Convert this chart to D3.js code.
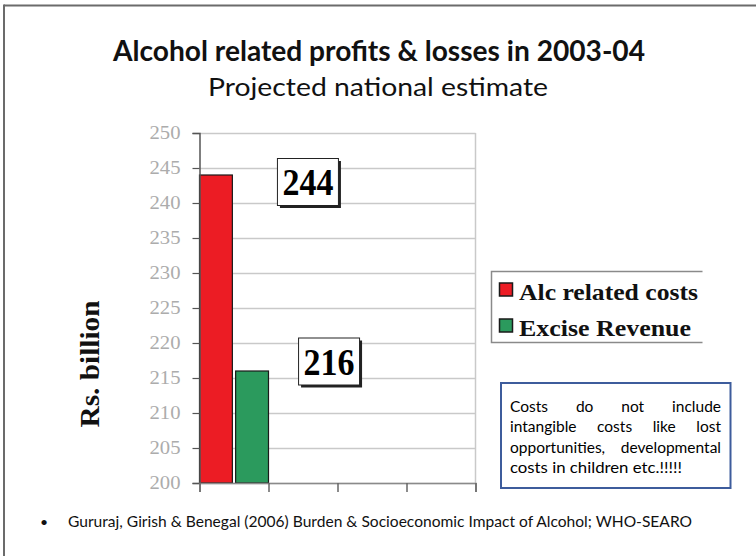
<!DOCTYPE html>
<html>
<head>
<meta charset="utf-8">
<script src="https://cdn.jsdelivr.net/npm/d3@7"></script>
<style>
  html, body { margin: 0; padding: 0; background: #fff; }
  svg { display: block; }
</style>
</head>
<body>
<svg id="chart" width="756" height="556"></svg>
<script>
// ---- data ----
const categories = ["2003-04"];
const seriesNames = ["Alc related costs", "Excise Revenue"];
const costs = [244];
const revenue = [216];
const slotCount = 4;                    // the category axis is laid out with four slots
const yTicks = [200, 205, 210, 215, 220, 225, 230, 235, 240, 245, 250];
const titleText = "Alcohol related profits & losses in 2003-04";
const subtitleText = "Projected national estimate";
const yLabel = "Rs. billion";
const noteLines = [
  "Costs do not include",
  "intangible costs like lost",
  "opportunities, developmental",
  "costs in children etc.!!!!!"
];
const sourceText = "Gururaj, Girish & Benegal (2006) Burden & Socioeconomic Impact of Alcohol; WHO-SEARO";

const colors = ["#ec1c24", "#2b9a5d"];
const serif = "'Liberation Serif', 'Times New Roman', serif";
const sans = "Lato, 'Open Sans', sans-serif";

const svg = d3.select("#chart");

// frame edges
svg.append("line").attr("x1", 4).attr("x2", 756).attr("y1", 5.5).attr("y2", 5.5)
  .attr("stroke", "#6b6b6b").attr("stroke-width", 2);
svg.append("line").attr("x1", 4).attr("x2", 4).attr("y1", 4.5).attr("y2", 556)
  .attr("stroke", "#6b6b6b").attr("stroke-width", 2);

// titles
svg.append("text").text(titleText)
  .attr("x", 379).attr("y", 61).attr("text-anchor", "middle")
  .attr("font-family", sans).attr("font-weight", 700).attr("font-size", 28)
  .attr("textLength", 532).attr("lengthAdjust", "spacingAndGlyphs").attr("fill", "#111");
svg.append("text").text(subtitleText)
  .attr("x", 378).attr("y", 96).attr("text-anchor", "middle")
  .attr("font-family", sans).attr("font-size", 25)
  .attr("textLength", 340).attr("lengthAdjust", "spacingAndGlyphs").attr("fill", "#111");

// ---- plot ----
const plot = { left: 199.5, right: 475.5, top: 133, bottom: 483 };

const y = d3.scaleLinear().domain([200, 250]).range([plot.bottom, plot.top]);
const x = d3.scaleLinear().domain([0, slotCount]).range([plot.left, plot.right]);
const slotW = x(1) - x(0);
const xInner = d3.scaleBand().domain(seriesNames).range([0, slotW]).paddingInner(0.09);

const g = svg.append("g");

// horizontal grid
g.append("g").selectAll("line").data(yTicks).join("line")
  .attr("x1", plot.left).attr("x2", plot.right)
  .attr("y1", d => Math.round(y(d)) + 0.5).attr("y2", d => Math.round(y(d)) + 0.5)
  .attr("stroke", "#c9c9c9").attr("stroke-width", 1.5);
// right edge of plot area
g.append("line").attr("x1", plot.right).attr("x2", plot.right)
  .attr("y1", plot.top).attr("y2", plot.bottom)
  .attr("stroke", "#c9c9c9").attr("stroke-width", 1.5);

// bars
const rows = categories.map((c, i) => ({ cat: c, i, values: [costs[i], revenue[i]] }));
const barData = rows.flatMap(r => r.values.map((v, k) => ({ i: r.i, k, v, name: seriesNames[k] })));

g.append("g").selectAll("rect").data(barData).join("rect")
  .attr("x", d => x(d.i) + xInner(d.name))
  .attr("y", d => y(d.v))
  .attr("width", xInner.bandwidth())
  .attr("height", d => y(200) - y(d.v))
  .attr("fill", d => colors[d.k])
  .attr("stroke", "#1a1a1a").attr("stroke-width", 1.2);

// y axis
const yAxis = d3.axisLeft(y).tickValues(yTicks).tickSize(7).tickPadding(12).tickFormat(d3.format("d"));
const ya = svg.append("g").attr("transform", `translate(${plot.left},0)`).call(yAxis);
ya.select(".domain").attr("stroke", "#555").attr("stroke-width", 1.5);
ya.selectAll(".tick line").attr("stroke", "#555").attr("stroke-width", 1.2);
ya.selectAll(".tick text")
  .attr("font-family", serif).attr("font-size", 18).attr("fill", "#acacac")
  .attr("textLength", 31).attr("lengthAdjust", "spacingAndGlyphs");

// x axis (unlabelled slots)
const xAxis = d3.axisBottom(x).ticks(slotCount).tickSize(9).tickFormat("");
const xa = svg.append("g").attr("transform", `translate(0,${plot.bottom})`).call(xAxis);
xa.select(".domain").attr("stroke", "#8a8a8a").attr("stroke-width", 1.5);
xa.selectAll(".tick line").attr("stroke", "#666").attr("stroke-width", 1.5);

// y axis title
svg.append("text").text(yLabel)
  .attr("transform", "translate(99,364) rotate(-90)")
  .attr("text-anchor", "middle")
  .attr("font-family", serif).attr("font-weight", 700).attr("font-size", 28)
  .attr("textLength", 127).attr("lengthAdjust", "spacingAndGlyphs").attr("fill", "#111");

// value callouts next to each bar
const callout = [{ dx: 92, dy: 7 }, { dx: 77, dy: -9.5 }];
barData.forEach(d => {
  const cx = x(d.i) + xInner(d.name) + xInner.bandwidth() / 2 + callout[d.k].dx;
  const cy = y(d.v) + callout[d.k].dy;
  const w = 61, h = 47;
  const cg = svg.append("g");
  cg.append("rect").attr("x", cx - w / 2 + 2.5).attr("y", cy - h / 2 + 2.5)
    .attr("width", w).attr("height", h).attr("fill", "#222");
  cg.append("rect").attr("x", cx - w / 2).attr("y", cy - h / 2)
    .attr("width", w).attr("height", h).attr("fill", "#fff")
    .attr("stroke", "#222").attr("stroke-width", 1);
  cg.append("text").text(d3.format("d")(d.v))
    .attr("x", cx).attr("y", cy + 13).attr("text-anchor", "middle")
    .attr("font-family", serif).attr("font-weight", 700).attr("font-size", 38)
    .attr("textLength", 51).attr("lengthAdjust", "spacingAndGlyphs").attr("fill", "#000");
});

// legend
const lg = svg.append("g");
lg.append("path")
  .attr("d", "M702.5,271.5 H491.5 V342.5 H702.5")
  .attr("fill", "none").attr("stroke", "#8a8a8a").attr("stroke-width", 1.5);
const legendWidths = [179, 172];
seriesNames.forEach((name, k) => {
  const yy = 283 + k * 36;
  lg.append("rect").attr("x", 499.5).attr("y", yy).attr("width", 13).attr("height", 13)
    .attr("fill", colors[k]).attr("stroke", "#1a1a1a").attr("stroke-width", 1.5);
  lg.append("text").text(name)
    .attr("x", 519).attr("y", yy + 17)
    .attr("font-family", serif).attr("font-weight", 700).attr("font-size", 24)
    .attr("textLength", legendWidths[k]).attr("lengthAdjust", "spacingAndGlyphs")
    .attr("fill", "#111");
});

// note box with justified text
const note = svg.append("g");
note.append("rect").attr("x", 501).attr("y", 383).attr("width", 229.5).attr("height", 105)
  .attr("fill", "#fff").attr("stroke", "#3d5c9c").attr("stroke-width", 2);
const noteLeft = 510, noteRight = 721;
const noteSize = 15.5;
noteLines.forEach((line, li) => {
  const base = 411.5 + li * 20.6;
  const last = li === noteLines.length - 1;
  if (last) {
    note.append("text").text(line).attr("x", noteLeft).attr("y", base)
      .attr("font-family", sans).attr("font-size", noteSize).attr("fill", "#000")
      .attr("textLength", 172).attr("lengthAdjust", "spacingAndGlyphs");
    return;
  }
  const words = line.split(" ");
  const nodes = words.map(w => note.append("text").text(w).attr("y", base)
    .attr("font-family", sans).attr("font-size", noteSize).attr("fill", "#000"));
  const widths = nodes.map(n => n.node().getComputedTextLength());
  let total = d3.sum(widths);
  let scale = 1;
  const minGap = 4.5;
  if (total + minGap * (words.length - 1) > noteRight - noteLeft) {
    scale = (noteRight - noteLeft - minGap * (words.length - 1)) / total;
    nodes.forEach((n, j) => n.attr("textLength", widths[j] * scale).attr("lengthAdjust", "spacingAndGlyphs"));
    total *= scale;
  }
  const gap = words.length > 1 ? (noteRight - noteLeft - total) / (words.length - 1) : 0;
  let cx = noteLeft;
  nodes.forEach((n, j) => { n.attr("x", cx); cx += widths[j] * scale + gap; });
});

// source line
svg.append("text").text("\u2022").attr("x", 40).attr("y", 527)
  .attr("font-family", sans).attr("font-size", 14).attr("fill", "#111");
svg.append("text").text(sourceText).attr("x", 68).attr("y", 527)
  .attr("font-family", sans).attr("font-size", 15).attr("fill", "#111")
  .attr("textLength", 624).attr("lengthAdjust", "spacingAndGlyphs");
</script>
</body>
</html>
